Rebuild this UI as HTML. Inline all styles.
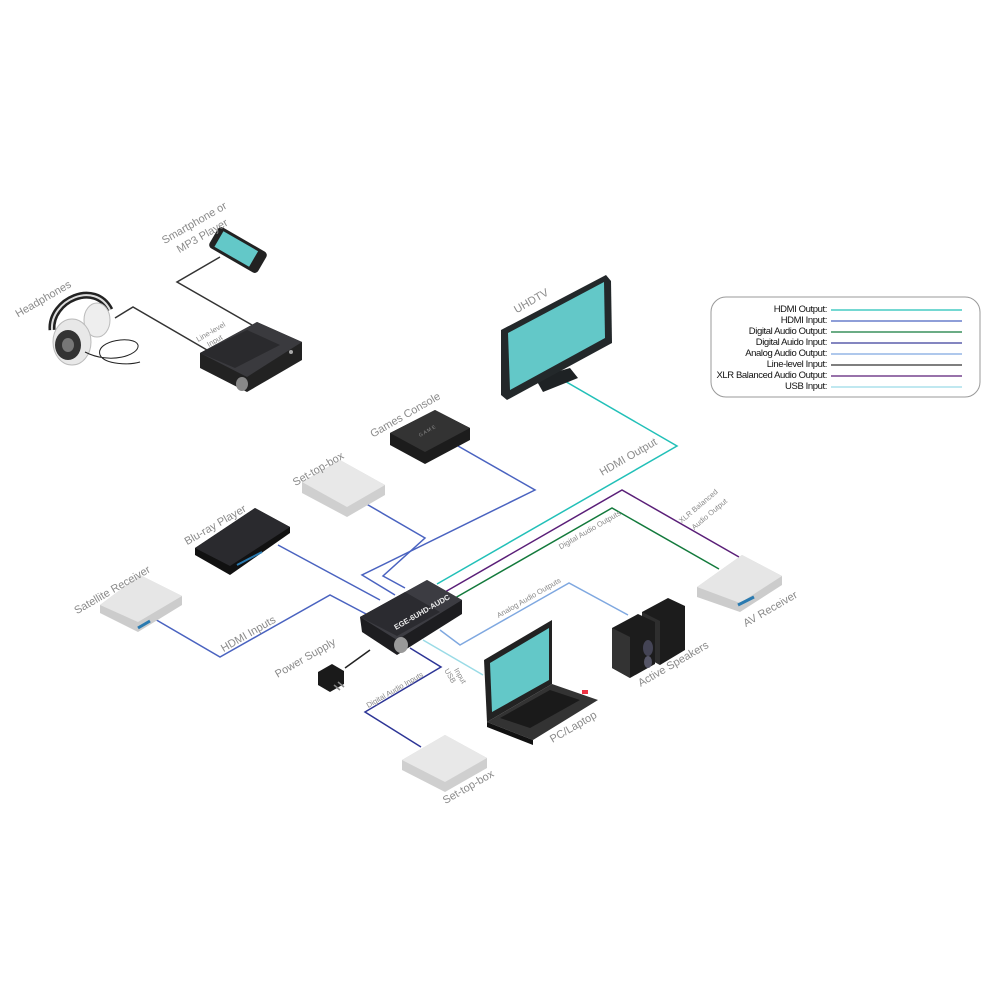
<!DOCTYPE html>
<html><head><meta charset="utf-8"><style>
html,body{margin:0;padding:0;background:#fff;width:1000px;height:1000px;overflow:hidden}
svg{display:block}
.l{font-family:"Liberation Sans",sans-serif;fill:#8a8a8a;font-size:11px}
.s{font-family:"Liberation Sans",sans-serif;fill:#8a8a8a;font-size:7.5px}
.g{font-family:"Liberation Sans",sans-serif;fill:#111;font-size:9.5px;letter-spacing:-0.4px}
</style></head><body>
<svg width="1000" height="1000" viewBox="0 0 1000 1000" xmlns="http://www.w3.org/2000/svg">
<g fill="none" stroke-width="1.5">
<polyline points="220,257 177,282 252,325" stroke="#333"/>
<polyline points="115,318 133,307 207,350" stroke="#333"/>
<polyline points="458,446 535,490 362,575 395,595" stroke="#4a63c0"/>
<polyline points="363,502 425,538 383,576 405,588" stroke="#4a63c0"/>
<polyline points="278,545 380,600" stroke="#4a63c0"/>
<polyline points="153,618 220,657 330,595 368,615" stroke="#4a63c0"/>
<polyline points="563,380 677,446 437,584" stroke="#22c0b8"/>
<polyline points="445,592 622,490 739,557" stroke="#5a1f78"/>
<polyline points="455,598 612,508 719,569" stroke="#137a3c"/>
<polyline points="440,630 460,645 569,583 628,615" stroke="#7fa8e0"/>
<polyline points="423,640 483,675" stroke="#9adbe6"/>
<polyline points="410,648 441,667 365,712 421,747" stroke="#2d3596"/>
<polyline points="345,668 370,650" stroke="#222"/>
</g>

<rect x="711" y="297" width="269" height="100" rx="15" fill="#fff" stroke="#999" stroke-width="1"/>
<g class="g" text-anchor="end">
<text x="827" y="312">HDMI Output:</text>
<text x="827" y="323">HDMI Input:</text>
<text x="827" y="334">Digital Audio Output:</text>
<text x="827" y="345">Digital Auido Input:</text>
<text x="827" y="356">Analog Audio Output:</text>
<text x="827" y="367">Line-level Input:</text>
<text x="827" y="378">XLR Balanced Audio Output:</text>
<text x="827" y="389">USB Input:</text>
</g>
<g stroke-width="1.3">
<line x1="831" y1="310" x2="962" y2="310" stroke="#22c0b8"/>
<line x1="831" y1="321" x2="962" y2="321" stroke="#4a63c0"/>
<line x1="831" y1="332" x2="962" y2="332" stroke="#137a3c"/>
<line x1="831" y1="343" x2="962" y2="343" stroke="#3a3f9a"/>
<line x1="831" y1="354" x2="962" y2="354" stroke="#7fa8e0"/>
<line x1="831" y1="365" x2="962" y2="365" stroke="#333"/>
<line x1="831" y1="376" x2="962" y2="376" stroke="#5a1f78"/>
<line x1="831" y1="387" x2="962" y2="387" stroke="#9adbe6"/>
</g>

<polygon points="535,378 570,368 578,378 543,392" fill="#1e2224"/>
<polygon points="501,330 606,275 611,281 612,343 507,400 501,395" fill="#23282a"/>
<polygon points="508,333 604,282 605,338 510,390" fill="#63c8c8"/>

<g transform="translate(238,250) rotate(30)">
<rect x="-28" y="-12" width="56" height="24" rx="4" fill="#222"/>
<rect x="-22" y="-9" width="40" height="18" fill="#63c8c8"/>
</g>

<g>
<path d="M52,330 C50,300 95,280 110,310" fill="none" stroke="#222" stroke-width="7"/>
<path d="M52,330 C50,300 95,280 110,310" fill="none" stroke="#ddd" stroke-width="2"/>
<ellipse cx="97" cy="320" rx="13" ry="17" fill="#eee" stroke="#bbb"/>
<ellipse cx="72" cy="342" rx="19" ry="23" fill="#e8e8e8" stroke="#bbb"/>
<ellipse cx="68" cy="345" rx="13" ry="15" fill="#333"/>
<ellipse cx="68" cy="345" rx="6" ry="7" fill="#777"/>
<path d="M85,352 C110,365 140,355 138,345 C135,335 95,340 100,355 C105,365 130,365 140,362" fill="none" stroke="#222" stroke-width="1"/>
</g>

<polygon points="200,353 257,322 302,342 302,360 247,392 200,368" fill="#222"/>
<polygon points="200,353 257,322 302,342 247,377" fill="#3a3a3e"/>
<polygon points="200,353 247,330 280,345 235,368" fill="#2a2a2d"/>
<ellipse cx="242" cy="384" rx="6" ry="7" fill="#888"/>
<circle cx="291" cy="352" r="2" fill="#aaa"/>

<polygon points="390,433 435,410 470,428 470,440 425,464 390,445" fill="#1c1c1c"/>
<polygon points="390,433 435,410 470,428 425,452" fill="#333"/>
<text x="0" y="0" transform="translate(420,437) rotate(-30)" font-family="Liberation Sans" font-size="5" fill="#888">G A M E</text>

<polygon points="302,482 340,460 385,485 385,495 347,517 302,493" fill="#cfcfcf"/>
<polygon points="302,482 340,460 385,485 347,507" fill="#e8e8e8"/>

<polygon points="195,548 255,508 290,527 290,533 230,575 195,555" fill="#111"/>
<polygon points="195,548 255,508 290,527 230,566" fill="#2a2a2e"/>
<line x1="237" y1="565" x2="262" y2="552" stroke="#2a7ab0" stroke-width="2"/>

<polygon points="100,605 140,575 182,596 182,605 138,632 100,613" fill="#ccc"/>
<polygon points="100,605 140,575 182,596 138,622" fill="#e6e6e6"/>
<line x1="138" y1="628" x2="150" y2="621" stroke="#2a7ab0" stroke-width="3"/>

<polygon points="360,617 427,580 462,600 462,614 397,655 362,632" fill="#1d1d20"/>
<polygon points="360,617 427,580 462,600 397,640" fill="#3c3c42"/>
<polygon points="360,617 405,592 440,612 397,636" fill="#2b2b30"/>
<ellipse cx="401" cy="645" rx="7" ry="8" fill="#999"/>
<text transform="translate(396,630) rotate(-30)" font-family="Liberation Sans" font-weight="bold" font-size="7.5" fill="#eee">EGE-6UHD-AUDC</text>

<polygon points="318,672 332,664 344,671 344,684 330,692 318,685" fill="#1a1a1a"/>
<line x1="334" y1="685" x2="340" y2="690" stroke="#888" stroke-width="1.5"/>
<line x1="338" y1="682" x2="344" y2="687" stroke="#888" stroke-width="1.5"/>

<polygon points="484,660 552,620 552,684 487,722" fill="#222"/>
<polygon points="490,663 549,628 549,680 492,712" fill="#63c8c8"/>
<polygon points="487,722 552,684 598,700 533,740" fill="#333"/>
<polygon points="487,722 533,740 533,745 487,727" fill="#111"/>
<polygon points="500,718 550,690 580,700 530,728" fill="#1a1a1a"/>
<rect x="582" y="690" width="6" height="4" fill="#e34"/>

<polygon points="642,612 668,598 685,606 685,650 660,665 642,655" fill="#1c1c1c"/>
<polygon points="642,612 660,621 660,665 642,655" fill="#2e2e2e"/>
<polygon points="612,628 638,614 655,622 655,664 630,678 612,668" fill="#1c1c1c"/>
<polygon points="612,628 630,637 630,678 612,668" fill="#333"/>
<ellipse cx="648" cy="648" rx="5" ry="8" fill="#445"/>
<ellipse cx="648" cy="662" rx="4" ry="6" fill="#556"/>

<polygon points="697,587 742,555 782,576 782,585 740,612 697,597" fill="#ccc"/>
<polygon points="697,587 742,555 782,576 740,603" fill="#e6e6e6"/>
<line x1="738" y1="605" x2="754" y2="597" stroke="#2a7ab0" stroke-width="3"/>

<polygon points="402,760 445,735 487,758 487,768 445,792 402,770" fill="#cfcfcf"/>
<polygon points="402,760 445,735 487,758 445,782" fill="#e8e8e8"/>

<text class="l" text-anchor="middle" transform="translate(196,226) rotate(-30)">Smartphone or</text>
<text class="l" text-anchor="middle" transform="translate(204,239) rotate(-30)">MP3 Player</text>
<text class="l" text-anchor="middle" transform="translate(45,302) rotate(-30)">Headphones</text>
<text class="s" text-anchor="middle" transform="translate(212,334) rotate(-30)">Line-level</text>
<text class="s" text-anchor="middle" transform="translate(216,343) rotate(-30)">Input</text>
<text class="l" text-anchor="middle" transform="translate(533,304) rotate(-30)">UHDTV</text>
<text class="l" text-anchor="middle" transform="translate(407,418) rotate(-30)">Games Console</text>
<text class="l" text-anchor="middle" transform="translate(320,472) rotate(-30)">Set-top-box</text>
<text class="l" text-anchor="middle" transform="translate(217,528) rotate(-30)">Blu-ray Player</text>
<text class="l" text-anchor="middle" transform="translate(114,593) rotate(-30)">Satellite Receiver</text>
<text class="l" text-anchor="middle" transform="translate(250,637) rotate(-30)">HDMI Inputs</text>
<text class="l" text-anchor="middle" transform="translate(307,661) rotate(-30)">Power Supply</text>
<text class="l" text-anchor="middle" transform="translate(630,460) rotate(-30)">HDMI Output</text>
<text class="s" text-anchor="middle" transform="translate(700,508) rotate(-40)">XLR Balanced</text>
<text class="s" text-anchor="middle" transform="translate(711,516) rotate(-40)">Audio Output</text>
<text class="s" text-anchor="middle" transform="translate(591,532) rotate(-30)">Digital Audio Outputs</text>
<text class="s" text-anchor="middle" transform="translate(530,600) rotate(-30)">Analog Audio Outputs</text>
<text class="s" text-anchor="middle" transform="translate(448,677) rotate(60)">USB</text>
<text class="s" text-anchor="middle" transform="translate(458,677) rotate(60)">Input</text>
<text class="s" text-anchor="middle" transform="translate(396,692) rotate(-30)">Digital Audio Inputs</text>
<text class="l" text-anchor="middle" transform="translate(675,667) rotate(-30)">Active Speakers</text>
<text class="l" text-anchor="middle" transform="translate(772,612) rotate(-30)">AV Receiver</text>
<text class="l" text-anchor="middle" transform="translate(575,730) rotate(-30)">PC/Laptop</text>
<text class="l" text-anchor="middle" transform="translate(470,790) rotate(-30)">Set-top-box</text>
</svg>
</body></html>
